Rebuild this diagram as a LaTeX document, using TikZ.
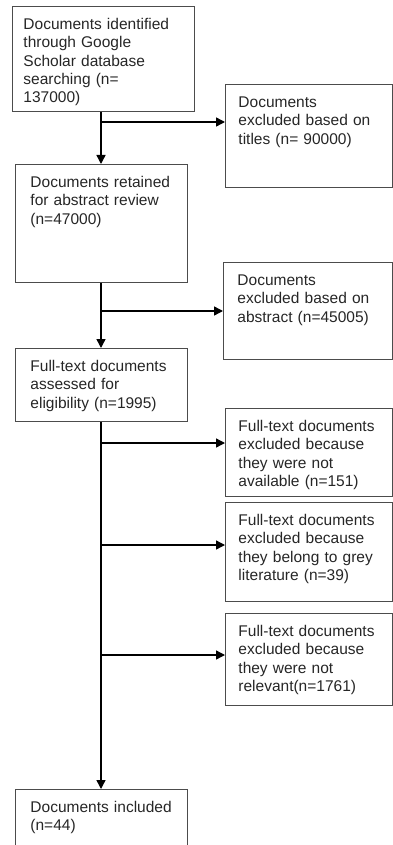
\documentclass[tikz,border=0pt]{standalone}
\usepackage{fontspec}
\setmainfont{Liberation Sans}
\usetikzlibrary{arrows.meta}

\tikzset{
  flowbox/.style={draw=black!70, line width=0.9pt, anchor=north west, align=left,
    inner ysep=12pt, text height=11pt, text=black!85,
    font=\fontsize{15.5}{18.3}\selectfont},
  mainbox/.style={flowbox, inner xsep=15pt, text width=142pt},
  exbox/.style={flowbox, inner xsep=13pt, text width=141pt},
  link/.style={line width=1.4pt, -{Triangle[length=9pt,width=9pt]}}
}

\begin{document}
\begin{tikzpicture}[x=1pt, y=-1pt]
    \useasboundingbox (0,0) rectangle (393,845);

    % Main column
    \node[flowbox, inner xsep=11pt, text width=160pt, text depth=70pt] (ident) at (12,6)
        {Documents identified\\through Google\\Scholar database\\searching (n=\\137000)};
    \node[mainbox, text depth=83pt] (retained) at (15,164)
        {Documents retained\\for abstract review\\(n=47000)};
    \node[mainbox, text depth=38pt] (assessed) at (15,348)
        {Full-text documents\\assessed for\\eligibility (n=1995)};
    \node[mainbox, text depth=25pt] (included) at (15,789)
        {Documents included\\(n=44)};

    % Exclusions
    \node[exbox, text depth=68pt] (titles) at (225,84)
        {Documents\\excluded based on\\titles (n= 90000)};
    \node[exbox, inner xsep=14pt, text width=141pt, text depth=62pt] (abstract) at (223,262)
        {Documents\\excluded based on\\abstract (n=45005)};
    \node[exbox, text depth=53pt] (unavail) at (225,408)
        {Full-text documents\\excluded because\\they were not\\available (n=151)};
    \node[exbox, text depth=64pt] (grey) at (225,502)
        {Full-text documents\\excluded because\\they belong to grey\\literature (n=39)};
    \node[exbox, text depth=57pt] (irrelevant) at (225,613)
        {Full-text documents\\excluded because\\they were not\\relevant(n=1761)};

    % Trunk and branch points
    \coordinate (trunk) at (101,0);
    \coordinate (s1) at (101,122);
    \coordinate (s2) at (101,311);
    \coordinate (s3) at (101,443);
    \coordinate (s4) at (101,545);
    \coordinate (s5) at (101,655);

    \draw[link] (ident.south -| trunk) -- (retained.north -| trunk);
    \draw[link] (retained.south -| trunk) -- (assessed.north -| trunk);
    \draw[link] (assessed.south -| trunk) -- (included.north -| trunk);

    \draw[link] (s1) -- (s1 -| titles.west);
    \draw[link] (s2) -- (s2 -| abstract.west);
    \draw[link] (s3) -- (s3 -| unavail.west);
    \draw[link] (s4) -- (s4 -| grey.west);
    \draw[link] (s5) -- (s5 -| irrelevant.west);
\end{tikzpicture}
\end{document}
